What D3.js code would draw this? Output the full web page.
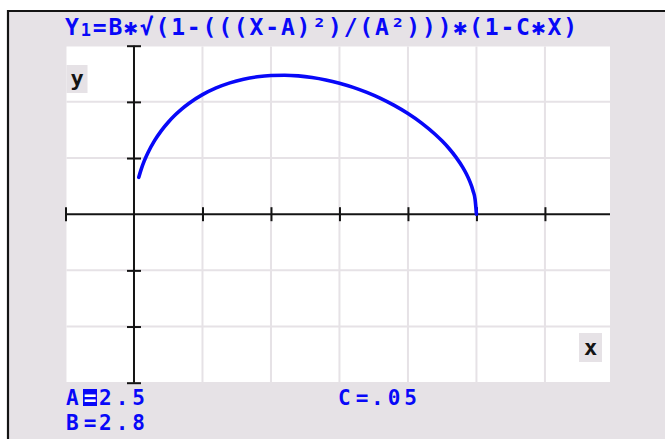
<!DOCTYPE html>
<html>
<head>
<meta charset="utf-8">
<script src="https://cdn.jsdelivr.net/npm/d3@7/dist/d3.min.js"></script>
<style>
  html, body { margin: 0; padding: 0; background: #fff; }
  svg { display: block; }
</style>
</head>
<body>
<svg id="chart" width="665" height="439"></svg>
<script>
// Sampled points of Y1 over 0 < X <= 5
const curveX = [0.07, 0.1, 0.15, 0.2, 0.3, 0.4, 0.5, 0.6, 0.7, 0.8, 1.0, 1.2, 1.4, 1.6, 1.8,
                2.0, 2.2, 2.4, 2.6, 2.8, 3.0, 3.2, 3.4, 3.6, 3.8, 4.0, 4.2, 4.4, 4.5, 4.6,
                4.7, 4.8, 4.85, 4.9, 4.95, 4.98, 5.0];
const curveY = [0.656, 0.780, 0.948, 1.086, 1.310, 1.489, 1.638, 1.765, 1.875, 1.971, 2.128,
                2.248, 2.338, 2.403, 2.446, 2.469, 2.474, 2.462, 2.434, 2.391, 2.332, 2.258,
                2.168, 2.062, 1.937, 1.792, 1.622, 1.419, 1.302, 1.170, 1.017, 0.834, 0.724,
                0.592, 0.419, 0.265, 0.0];

// Window ticks
const xTicks = [-1, 0, 1, 2, 3, 4, 5, 6];
const yTicks = [-3, -2, -1, 0, 1, 2, 3];

// Equation and parameters
const equationText = "=B✱√(1-(((X-A)²)/(A²)))✱(1-C✱X)";
const paramNames = ["A", "B", "C"];
const paramValues = ["2.5", "2.8", ".05"];

const BLUE = "#0808f8";
const PANEL = "#e6e2e6";
const GRID = "#e6e2e6";
const INK = "#141414";
const FONT = "'DejaVu Sans Mono', 'Liberation Mono', monospace";

const svg = d3.select("#chart");

// Screen frame
svg.append("rect").attr("width", 665).attr("height", 439).attr("fill", "#ffffff");
svg.append("rect").attr("x", 8).attr("y", 11).attr("width", 657).attr("height", 428).attr("fill", PANEL);
svg.append("line").attr("x1", 8).attr("x2", 8).attr("y1", 10).attr("y2", 439)
  .attr("stroke", INK).attr("stroke-width", 2.2);
svg.append("line").attr("x1", 7).attr("x2", 665).attr("y1", 11).attr("y2", 11)
  .attr("stroke", INK).attr("stroke-width", 2.2);

// Scales
const x = d3.scaleLinear().domain([-1, 6.95]).range([65.5, 610]);
const y = d3.scaleLinear().domain([-3, 3]).range([382.7, 45.7]);

// Graph area
const plotLeft = 66.5, plotRight = 610, plotTop = 46.5, plotBottom = 382;
svg.append("rect")
  .attr("x", plotLeft).attr("y", plotTop)
  .attr("width", plotRight - plotLeft).attr("height", plotBottom - plotTop)
  .attr("fill", "#ffffff");

// Grid
const grid = svg.append("g").attr("stroke", GRID).attr("stroke-width", 2);
grid.selectAll("line.v").data(xTicks.filter(d => d > 0)).join("line")
  .attr("class", "v")
  .attr("x1", d => x(d)).attr("x2", d => x(d))
  .attr("y1", plotTop).attr("y2", plotBottom);
grid.selectAll("line.h").data(yTicks.filter(d => d !== 0 && Math.abs(d) < 3)).join("line")
  .attr("class", "h")
  .attr("x1", plotLeft).attr("x2", plotRight)
  .attr("y1", d => y(d)).attr("y2", d => y(d));

// Axes: ticks cross the axis lines on both sides
const tickHalf = 7;
const xAxis = d3.axisBottom(x).tickValues(xTicks.filter(d => d !== 0))
  .tickSize(tickHalf * 2).tickFormat("");
const gx = svg.append("g").attr("transform", `translate(0,${y(0) - tickHalf})`).call(xAxis);
gx.select(".domain").remove();
gx.selectAll(".tick line").attr("stroke", INK).attr("stroke-width", 2);

const yAxis = d3.axisRight(y).tickValues(yTicks.filter(d => d !== 0))
  .tickSize(tickHalf * 2).tickFormat("");
const gy = svg.append("g").attr("transform", `translate(${x(0) - tickHalf},0)`).call(yAxis);
gy.select(".domain").remove();
gy.selectAll(".tick line").attr("stroke", INK).attr("stroke-width", 2);

svg.append("line")
  .attr("x1", x(-1)).attr("x2", plotRight).attr("y1", y(0)).attr("y2", y(0))
  .attr("stroke", INK).attr("stroke-width", 2);
svg.append("line")
  .attr("x1", x(0)).attr("x2", x(0)).attr("y1", y(3)).attr("y2", y(-3))
  .attr("stroke", INK).attr("stroke-width", 2);

// Axis labels in their little boxes
svg.append("rect").attr("x", 66.5).attr("y", 65).attr("width", 21).attr("height", 28).attr("fill", PANEL);
svg.append("text").attr("x", 77).attr("y", 86).attr("text-anchor", "middle")
  .attr("font-family", FONT).attr("font-weight", "bold").attr("font-size", 22)
  .attr("fill", INK).text("y");
svg.append("rect").attr("x", 579).attr("y", 333).attr("width", 23).attr("height", 29).attr("fill", PANEL);
svg.append("text").attr("x", 590.5).attr("y", 355).attr("text-anchor", "middle")
  .attr("font-family", FONT).attr("font-weight", "bold").attr("font-size", 22)
  .attr("fill", INK).text("x");

// Curve
const pts = curveX.map((d, i) => [d, curveY[i]]);
const line = d3.line().x(d => x(d[0])).y(d => y(d[1])).curve(d3.curveMonotoneX);
svg.append("path").datum(pts)
  .attr("d", line)
  .attr("fill", "none")
  .attr("stroke", BLUE)
  .attr("stroke-width", 3.6)
  .attr("stroke-linejoin", "round")
  .attr("stroke-linecap", "round");

// Equation banner
const eq = svg.append("text")
  .attr("x", 65).attr("y", 35)
  .attr("font-family", FONT).attr("font-weight", "bold").attr("font-size", 23)
  .attr("fill", BLUE);
eq.append("tspan").text("Y");
eq.append("tspan").attr("font-size", 17).attr("dy", 1).text("1");
eq.append("tspan").attr("dy", -1).text(equationText);
eq.attr("textLength", 512).attr("lengthAdjust", "spacing");

// Parameter readouts
const paramPos = [
  { x: 66, y: 405 },
  { x: 66, y: 430 },
  { x: 338, y: 405 }
];
paramNames.forEach((name, i) => {
  const p = paramPos[i];
  const g = svg.append("g").attr("font-family", FONT).attr("font-weight", "bold")
    .attr("font-size", 21).attr("fill", BLUE);
  g.append("text").attr("x", p.x).attr("y", p.y).text(name);
  if (i === 0) {
    // active parameter: highlighted "="
    g.append("rect").attr("x", p.x + 17).attr("y", p.y - 16).attr("width", 14).attr("height", 17)
      .attr("fill", BLUE);
    g.append("text").attr("x", p.x + 24).attr("y", p.y).attr("text-anchor", "middle")
      .attr("fill", "#ffffff").text("=");
  } else {
    g.append("text").attr("x", p.x + 24).attr("y", p.y).attr("text-anchor", "middle").text("=");
  }
  g.append("text").attr("x", p.x + 33).attr("y", p.y)
    .attr("textLength", 46).attr("lengthAdjust", "spacing").text(paramValues[i]);
});
</script>
</body>
</html>
